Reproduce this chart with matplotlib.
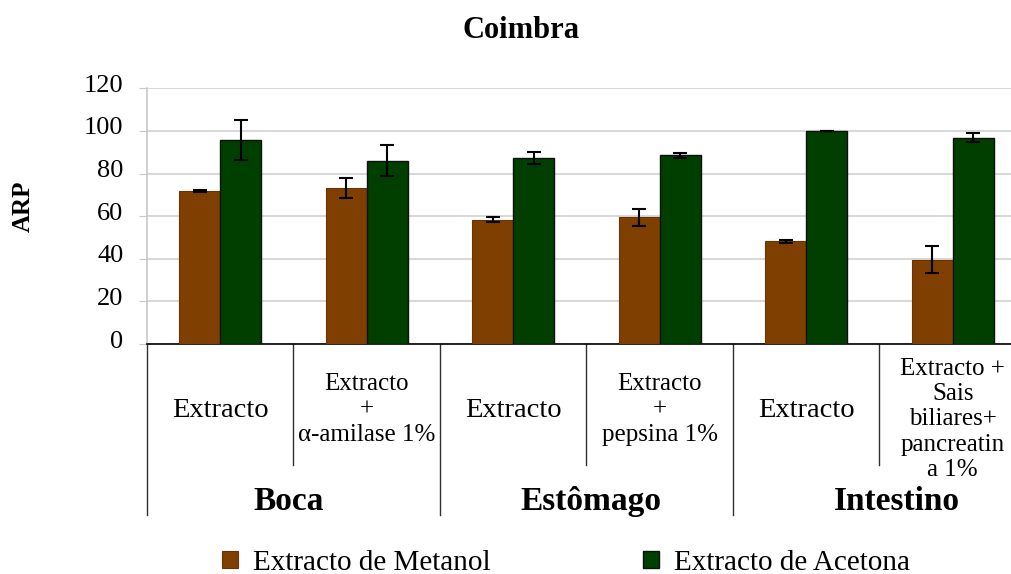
import matplotlib
matplotlib.use("Agg")
import matplotlib.pyplot as plt
import numpy as np
from matplotlib.transforms import blended_transform_factory, ScaledTranslation

title = "Coimbra"
ylabel = "ARP"
sub_labels = ["Extracto", "Extracto\n+\nα-amilase 1%", "Extracto",
              "Extracto\n+\npepsina 1%", "Extracto",
              "Extracto +\nSais\nbiliares+\npancreatin\na 1%"]
group_labels = ["Boca", "Estômago", "Intestino"]
series_names = ["Extracto de Metanol", "Extracto de Acetona"]
metanol = [71.8, 73.2, 58.4, 59.6, 48.2, 39.6]
metanol_err = [0.5, 4.6, 1.1, 4.0, 0.7, 6.5]
acetona = [95.6, 86.1, 87.3, 88.5, 100.0, 96.9]
acetona_err = [9.4, 7.3, 2.9, 1.3, 0.0, 2.0]
yticks = [0, 20, 40, 60, 80, 100, 120]

plt.rcParams['font.family'] = ['Liberation Serif', 'DejaVu Serif']

fig = plt.figure(figsize=(10.12, 5.74), dpi=100)
ax = fig.add_axes([147/1012, 230/574, 879/1012, 255.6/574])

x = np.arange(len(sub_labels))
w = 0.28
c_m = '#7f3f00'
c_a = '#003f00'
b1 = ax.bar(x - w/2, metanol, w, color=c_m, edgecolor='#6a3300', linewidth=0.8, zorder=3,
            label=series_names[0])
b2 = ax.bar(x + w/2, acetona, w, color=c_a, edgecolor='#101010', linewidth=1.0, zorder=3,
            label=series_names[1])
ax.errorbar(x - w/2, metanol, yerr=metanol_err, fmt='none', ecolor='black',
            elinewidth=1.5, capsize=5, capthick=1.5, zorder=4)
ax.errorbar(x + w/2, acetona, yerr=acetona_err, fmt='none', ecolor='black',
            elinewidth=1.5, capsize=5, capthick=1.5, zorder=4)

ax.set_xlim(-0.5, 5.5)
ax.set_ylim(0, 120)
ax.set_yticks(yticks)
ax.set_xticks([])
ax.tick_params(axis='y', labelsize=19, length=6, color='#c8c8c8', pad=11)
off = ScaledTranslation(0, 5/100, fig.dpi_scale_trans)
for lbl in ax.get_yticklabels():
    lbl.set_transform(lbl.get_transform() + off)
ax.yaxis.grid(True, color='#d9d9d9', linewidth=1.5, zorder=0)
ax.set_axisbelow(True)
for s in ['top', 'right']:
    ax.spines[s].set_visible(False)
ax.spines['left'].set_color('#c8c8c8')
ax.spines['left'].set_linewidth(1.2)
ax.spines['bottom'].set_color('black')
ax.spines['bottom'].set_linewidth(1.2)

ax.set_ylabel(ylabel, fontsize=18, fontweight='bold')
ax.yaxis.set_label_coords(-0.128, 0.54)
fig.text(521/1012, 1 - 31/574, title, fontsize=22, fontweight='bold',
         ha='center', va='center')

tr = blended_transform_factory(ax.transData, ax.transAxes)
for xb in [0.5, 2.5, 4.5]:
    ax.plot([xb, xb], [0, -0.473], transform=tr, color='#303030', lw=1.0, clip_on=False)
for xb in [-0.5, 1.5, 3.5, 5.5]:
    ax.plot([xb, xb], [0, -0.669], transform=tr, color='#303030', lw=1.0, clip_on=False)

for i, lab in enumerate(sub_labels):
    if "\n" in lab:
        yy = -0.255 if i < 5 else -0.295
        ax.text(i, yy, lab, transform=tr, ha='center', va='center', fontsize=18,
                linespacing=1.2)
    else:
        ax.text(i, -0.262, lab, transform=tr, ha='center', va='center', fontsize=20.5)

group_x = [0.47, 2.527, 4.62]
for gx, lab in zip(group_x, group_labels):
    ax.text(gx, -0.615, lab, transform=tr, ha='center', va='center',
            fontsize=24, fontweight='bold')

fig.legend(handles=[b1, b2], labels=series_names, loc='center',
           bbox_to_anchor=(566/1012, 1 - 563/574), ncol=2, frameon=False,
           fontsize=21, handlelength=0.55, handleheight=0.55, handletextpad=0.5,
           columnspacing=5.25)

fig.savefig("out.png", dpi=100)
